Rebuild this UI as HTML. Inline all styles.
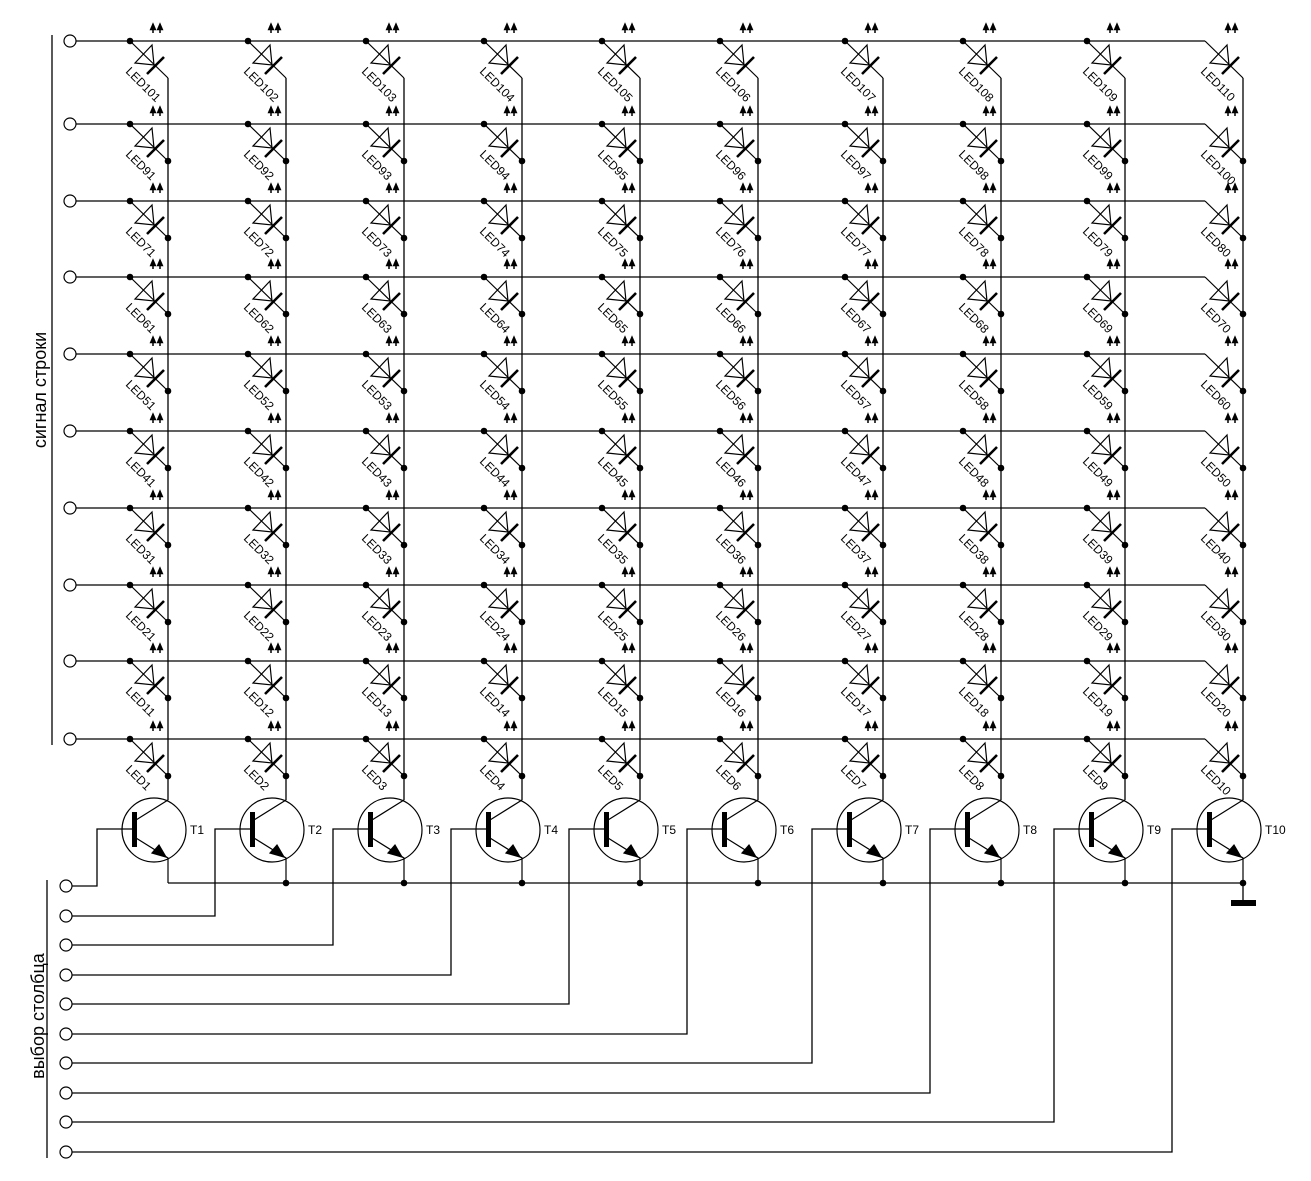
<!DOCTYPE html>
<html><head><meta charset="utf-8"><style>
html,body{margin:0;padding:0;background:#fff;}
svg{display:block;font-family:"Liberation Sans",sans-serif;}
</style></head><body>
<svg width="1311" height="1181" viewBox="0 0 1311 1181" xmlns="http://www.w3.org/2000/svg">
<defs>
<g id="L" stroke="#000" stroke-width="1.2" fill="none">
<path d="M0 0 L38 37"/>
<path d="M22 4 L5 22 L24 24 Z"/>
<path d="M17 33 L34 16" stroke-width="2.6"/>
<path d="M23 -12 v4 M30 -12 v4" stroke-width="1.5"/>
<path d="M23 -18 l-3 7 h6z M30 -18 l-3 7 h6z" fill="#000" stroke-width="0.6"/>
</g>
<g id="R">
<line x1="76" y1="0" x2="1205" y2="0" stroke="#000" stroke-width="1.3"/>
<circle cx="70" cy="0" r="6" fill="#fff" stroke="#000" stroke-width="1.2"/>
<use href="#L" x="130"/><use href="#L" x="248"/><use href="#L" x="366"/><use href="#L" x="484"/><use href="#L" x="602"/><use href="#L" x="720"/><use href="#L" x="845"/><use href="#L" x="963"/><use href="#L" x="1087"/><use href="#L" x="1205"/>
<g fill="#000"><circle cx="130" cy="0" r="3.3"/><circle cx="248" cy="0" r="3.3"/><circle cx="366" cy="0" r="3.3"/><circle cx="484" cy="0" r="3.3"/><circle cx="602" cy="0" r="3.3"/><circle cx="720" cy="0" r="3.3"/><circle cx="845" cy="0" r="3.3"/><circle cx="963" cy="0" r="3.3"/><circle cx="1087" cy="0" r="3.3"/></g>
</g>
<g id="D" fill="#000"><circle cx="168" cy="37" r="3.3"/><circle cx="286" cy="37" r="3.3"/><circle cx="404" cy="37" r="3.3"/><circle cx="522" cy="37" r="3.3"/><circle cx="640" cy="37" r="3.3"/><circle cx="758" cy="37" r="3.3"/><circle cx="883" cy="37" r="3.3"/><circle cx="1001" cy="37" r="3.3"/><circle cx="1125" cy="37" r="3.3"/><circle cx="1243" cy="37" r="3.3"/></g>
<g id="T" stroke="#000" stroke-width="1.2" fill="none">
<circle cx="-14" cy="830" r="32"/>
<rect x="-36" y="812" width="5" height="35" fill="#000" stroke="none"/>
<path d="M-32 820 L0 800 M-32 838 L0 858 V883 M-46 829 H-36"/>
<path d="M-2 857 L-16 853 L-9 845 Z" fill="#000"/>
</g>
</defs>

<g stroke="#000" stroke-width="1.3">
<line x1="168" y1="78" x2="168" y2="800"/><line x1="286" y1="78" x2="286" y2="800"/><line x1="404" y1="78" x2="404" y2="800"/><line x1="522" y1="78" x2="522" y2="800"/><line x1="640" y1="78" x2="640" y2="800"/><line x1="758" y1="78" x2="758" y2="800"/><line x1="883" y1="78" x2="883" y2="800"/><line x1="1001" y1="78" x2="1001" y2="800"/><line x1="1125" y1="78" x2="1125" y2="800"/><line x1="1243" y1="78" x2="1243" y2="800"/>
</g>

<use href="#R" y="41"/>
<use href="#R" y="124"/><use href="#D" y="124"/>
<use href="#R" y="201"/><use href="#D" y="201"/>
<use href="#R" y="277"/><use href="#D" y="277"/>
<use href="#R" y="354"/><use href="#D" y="354"/>
<use href="#R" y="431"/><use href="#D" y="431"/>
<use href="#R" y="508"/><use href="#D" y="508"/>
<use href="#R" y="585"/><use href="#D" y="585"/>
<use href="#R" y="661"/><use href="#D" y="661"/>
<use href="#R" y="739"/><use href="#D" y="739"/>

<g font-size="12" fill="#000">
<g transform="translate(0,41)"><text transform="translate(125,31) rotate(45)">LED101</text><text transform="translate(243,31) rotate(45)">LED102</text><text transform="translate(361,31) rotate(45)">LED103</text><text transform="translate(479,31) rotate(45)">LED104</text><text transform="translate(597,31) rotate(45)">LED105</text><text transform="translate(715,31) rotate(45)">LED106</text><text transform="translate(840,31) rotate(45)">LED107</text><text transform="translate(958,31) rotate(45)">LED108</text><text transform="translate(1082,31) rotate(45)">LED109</text><text transform="translate(1200,31) rotate(45)">LED110</text></g>
<g transform="translate(0,124)"><text transform="translate(125,31) rotate(45)">LED91</text><text transform="translate(243,31) rotate(45)">LED92</text><text transform="translate(361,31) rotate(45)">LED93</text><text transform="translate(479,31) rotate(45)">LED94</text><text transform="translate(597,31) rotate(45)">LED95</text><text transform="translate(715,31) rotate(45)">LED96</text><text transform="translate(840,31) rotate(45)">LED97</text><text transform="translate(958,31) rotate(45)">LED98</text><text transform="translate(1082,31) rotate(45)">LED99</text><text transform="translate(1200,31) rotate(45)">LED100</text></g>
<g transform="translate(0,201)"><text transform="translate(125,31) rotate(45)">LED71</text><text transform="translate(243,31) rotate(45)">LED72</text><text transform="translate(361,31) rotate(45)">LED73</text><text transform="translate(479,31) rotate(45)">LED74</text><text transform="translate(597,31) rotate(45)">LED75</text><text transform="translate(715,31) rotate(45)">LED76</text><text transform="translate(840,31) rotate(45)">LED77</text><text transform="translate(958,31) rotate(45)">LED78</text><text transform="translate(1082,31) rotate(45)">LED79</text><text transform="translate(1200,31) rotate(45)">LED80</text></g>
<g transform="translate(0,277)"><text transform="translate(125,31) rotate(45)">LED61</text><text transform="translate(243,31) rotate(45)">LED62</text><text transform="translate(361,31) rotate(45)">LED63</text><text transform="translate(479,31) rotate(45)">LED64</text><text transform="translate(597,31) rotate(45)">LED65</text><text transform="translate(715,31) rotate(45)">LED66</text><text transform="translate(840,31) rotate(45)">LED67</text><text transform="translate(958,31) rotate(45)">LED68</text><text transform="translate(1082,31) rotate(45)">LED69</text><text transform="translate(1200,31) rotate(45)">LED70</text></g>
<g transform="translate(0,354)"><text transform="translate(125,31) rotate(45)">LED51</text><text transform="translate(243,31) rotate(45)">LED52</text><text transform="translate(361,31) rotate(45)">LED53</text><text transform="translate(479,31) rotate(45)">LED54</text><text transform="translate(597,31) rotate(45)">LED55</text><text transform="translate(715,31) rotate(45)">LED56</text><text transform="translate(840,31) rotate(45)">LED57</text><text transform="translate(958,31) rotate(45)">LED58</text><text transform="translate(1082,31) rotate(45)">LED59</text><text transform="translate(1200,31) rotate(45)">LED60</text></g>
<g transform="translate(0,431)"><text transform="translate(125,31) rotate(45)">LED41</text><text transform="translate(243,31) rotate(45)">LED42</text><text transform="translate(361,31) rotate(45)">LED43</text><text transform="translate(479,31) rotate(45)">LED44</text><text transform="translate(597,31) rotate(45)">LED45</text><text transform="translate(715,31) rotate(45)">LED46</text><text transform="translate(840,31) rotate(45)">LED47</text><text transform="translate(958,31) rotate(45)">LED48</text><text transform="translate(1082,31) rotate(45)">LED49</text><text transform="translate(1200,31) rotate(45)">LED50</text></g>
<g transform="translate(0,508)"><text transform="translate(125,31) rotate(45)">LED31</text><text transform="translate(243,31) rotate(45)">LED32</text><text transform="translate(361,31) rotate(45)">LED33</text><text transform="translate(479,31) rotate(45)">LED34</text><text transform="translate(597,31) rotate(45)">LED35</text><text transform="translate(715,31) rotate(45)">LED36</text><text transform="translate(840,31) rotate(45)">LED37</text><text transform="translate(958,31) rotate(45)">LED38</text><text transform="translate(1082,31) rotate(45)">LED39</text><text transform="translate(1200,31) rotate(45)">LED40</text></g>
<g transform="translate(0,585)"><text transform="translate(125,31) rotate(45)">LED21</text><text transform="translate(243,31) rotate(45)">LED22</text><text transform="translate(361,31) rotate(45)">LED23</text><text transform="translate(479,31) rotate(45)">LED24</text><text transform="translate(597,31) rotate(45)">LED25</text><text transform="translate(715,31) rotate(45)">LED26</text><text transform="translate(840,31) rotate(45)">LED27</text><text transform="translate(958,31) rotate(45)">LED28</text><text transform="translate(1082,31) rotate(45)">LED29</text><text transform="translate(1200,31) rotate(45)">LED30</text></g>
<g transform="translate(0,661)"><text transform="translate(125,31) rotate(45)">LED11</text><text transform="translate(243,31) rotate(45)">LED12</text><text transform="translate(361,31) rotate(45)">LED13</text><text transform="translate(479,31) rotate(45)">LED14</text><text transform="translate(597,31) rotate(45)">LED15</text><text transform="translate(715,31) rotate(45)">LED16</text><text transform="translate(840,31) rotate(45)">LED17</text><text transform="translate(958,31) rotate(45)">LED18</text><text transform="translate(1082,31) rotate(45)">LED19</text><text transform="translate(1200,31) rotate(45)">LED20</text></g>
<g transform="translate(0,739)"><text transform="translate(125,31) rotate(45)">LED1</text><text transform="translate(243,31) rotate(45)">LED2</text><text transform="translate(361,31) rotate(45)">LED3</text><text transform="translate(479,31) rotate(45)">LED4</text><text transform="translate(597,31) rotate(45)">LED5</text><text transform="translate(715,31) rotate(45)">LED6</text><text transform="translate(840,31) rotate(45)">LED7</text><text transform="translate(958,31) rotate(45)">LED8</text><text transform="translate(1082,31) rotate(45)">LED9</text><text transform="translate(1200,31) rotate(45)">LED10</text></g>
</g>

<use href="#T" x="168"/><use href="#T" x="286"/><use href="#T" x="404"/><use href="#T" x="522"/><use href="#T" x="640"/><use href="#T" x="758"/><use href="#T" x="883"/><use href="#T" x="1001"/><use href="#T" x="1125"/><use href="#T" x="1243"/>
<g font-size="12" fill="#000">
<text x="190" y="834">T1</text><text x="308" y="834">T2</text><text x="426" y="834">T3</text><text x="544" y="834">T4</text><text x="662" y="834">T5</text><text x="780" y="834">T6</text><text x="905" y="834">T7</text><text x="1023" y="834">T8</text><text x="1147" y="834">T9</text><text x="1265" y="834">T10</text>
</g>

<g stroke="#000" stroke-width="1.3" fill="none">
<path d="M168 883 H1243 V900"/>
</g>
<rect x="1231" y="900" width="25" height="6" fill="#000"/>
<g fill="#000"><circle cx="286" cy="883" r="3.3"/><circle cx="404" cy="883" r="3.3"/><circle cx="522" cy="883" r="3.3"/><circle cx="640" cy="883" r="3.3"/><circle cx="758" cy="883" r="3.3"/><circle cx="883" cy="883" r="3.3"/><circle cx="1001" cy="883" r="3.3"/><circle cx="1125" cy="883" r="3.3"/><circle cx="1243" cy="883" r="3.3"/></g>

<g stroke="#000" stroke-width="1.3" fill="none">
<path d="M72 886 H97 V829 H122"/>
<path d="M72 916 H215 V829 H240"/>
<path d="M72 945 H333 V829 H358"/>
<path d="M72 975 H451 V829 H476"/>
<path d="M72 1004 H569 V829 H594"/>
<path d="M72 1034 H687 V829 H712"/>
<path d="M72 1063 H812 V829 H837"/>
<path d="M72 1093 H930 V829 H955"/>
<path d="M72 1122 H1054 V829 H1079"/>
<path d="M72 1152 H1172 V829 H1197"/>
</g>
<g fill="#fff" stroke="#000" stroke-width="1.2">
<circle cx="66" cy="886" r="6"/><circle cx="66" cy="916" r="6"/><circle cx="66" cy="945" r="6"/><circle cx="66" cy="975" r="6"/><circle cx="66" cy="1004" r="6"/><circle cx="66" cy="1034" r="6"/><circle cx="66" cy="1063" r="6"/><circle cx="66" cy="1093" r="6"/><circle cx="66" cy="1122" r="6"/><circle cx="66" cy="1152" r="6"/>
</g>

<g stroke="#000" stroke-width="1.3">
<line x1="52" y1="35" x2="52" y2="745"/>
<line x1="47" y1="880" x2="47" y2="1158"/>
</g>
<text transform="translate(46,390) rotate(-90)" text-anchor="middle" font-size="18" fill="#000">сигнал строки</text>
<text transform="translate(44,1016) rotate(-90)" text-anchor="middle" font-size="18" fill="#000">выбор столбца</text>
</svg>
</body></html>
